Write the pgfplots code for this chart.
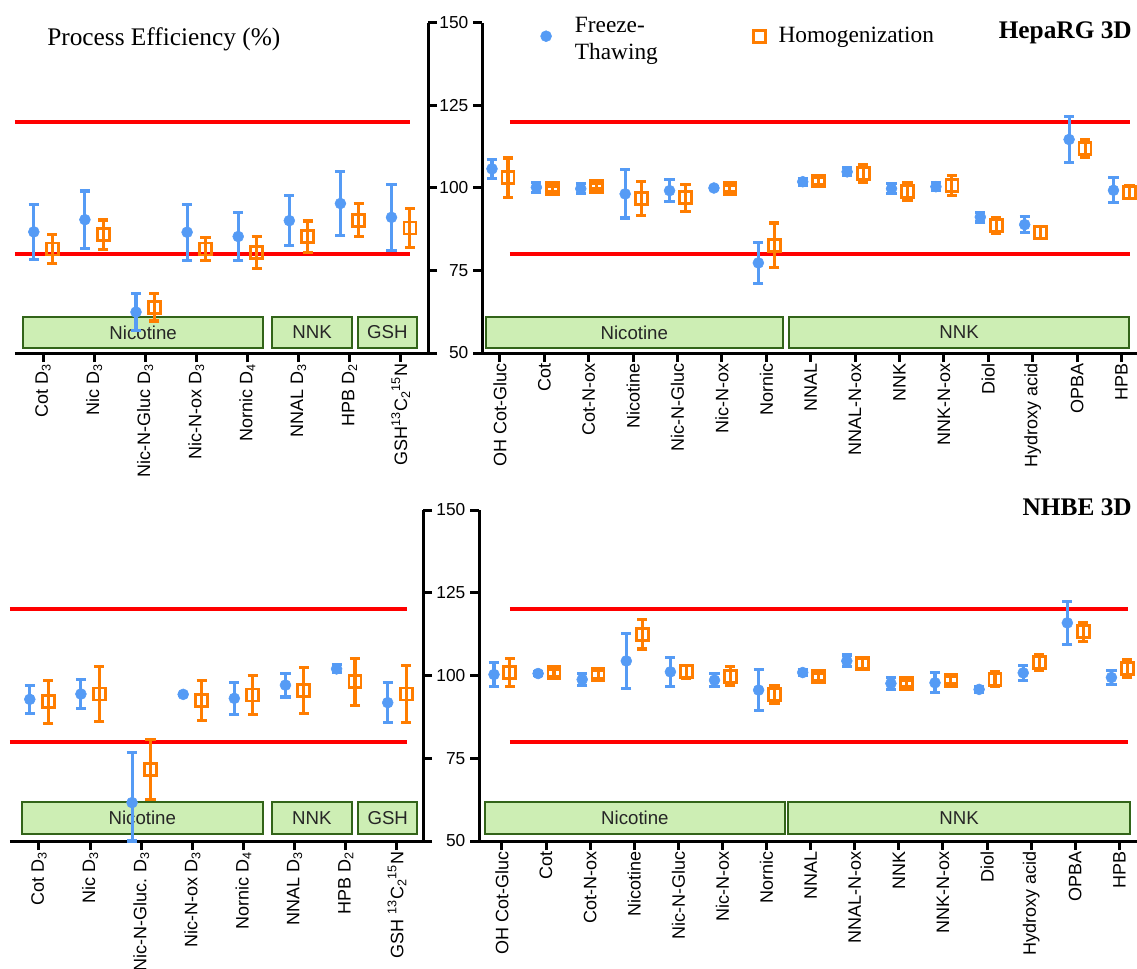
\documentclass[border=0pt]{standalone}
\usepackage{fontspec}
\setmainfont{Liberation Sans}
\newfontfamily\serif{Liberation Serif}
\usepackage{pgfplots}
\pgfplotsset{compat=1.18}
\definecolor{ftblue}{RGB}{85,155,245}
\definecolor{hgorange}{RGB}{255,125,0}
\definecolor{boxfill}{RGB}{205,238,180}
\definecolor{boxedge}{RGB}{50,100,25}
\definecolor{plred}{RGB}{255,0,0}
\def\u{0.75pt}
\tikzset{
  grp/.style={fill=boxfill, draw=boxedge, line width=1.5pt},
  grptext/.style={font=\fontsize{14}{14}\selectfont, text=black!85},
}
\pgfplotsset{
  panel/.style={scale only axis, anchor=south west, ymin=50, ymax=150, ytick={50,75,100,125,150},
    axis line style={line width=2.25pt, black},
    tick style={line width=2.25pt, black},
    major tick length=6.75pt, tick align=outside,
    xticklabel style={rotate=90, anchor=east, font=\fontsize{13.5}{14}\selectfont, inner sep=1pt},
    yticklabel style={font=\fontsize{13}{14}\selectfont},
    /pgf/number format/assume math mode=true,
    clip=false},
  redline/.style={plred, line width=3pt, no marks, forget plot},
  ft/.style={only marks, color=ftblue, mark=*, mark size=4.1pt,
    error bars/.cd, y dir=both, y explicit,
    error bar style={line width=2.3pt, ftblue},
    error mark options={rotate=90, line width=2.3pt, mark size=3.8pt, ftblue}},
  hg/.style={only marks, color=hgorange, mark=square, mark size=4.5pt, mark options={line width=2.1pt},
    error bars/.cd, y dir=both, y explicit,
    error bar style={line width=2.3pt, hgorange},
    error mark options={rotate=90, line width=2.3pt, mark size=3.8pt, hgorange}},
}
\begin{document}
\begin{tikzpicture}
\useasboundingbox (0,0) rectangle ({1137*\u},{-969*\u});
% ---------------- Top left
\begin{axis}[panel, at={(11.25pt,-264.75pt)}, width=309.75pt, height=247.5pt,
  xmin=-0.548, xmax=7.534, axis x line*=bottom, axis y line*=right, yticklabels={},
  xtick={0,...,7},
  xticklabels={Cot D\textsubscript{3}, Nic D\textsubscript{3}, Nic-N-Gluc D\textsubscript{3}, Nic-N-ox D\textsubscript{3}, Nornic D\textsubscript{4}, NNAL D\textsubscript{3}, HPB D\textsubscript{2}, GSH\textsuperscript{13}C\textsubscript{2}\textsuperscript{15}N}]
\draw[grp] (axis cs:-0.39,51.5) rectangle (axis cs:4.31,60.9);
\node[grptext] at (axis cs:1.96,56.2) {Nicotine};
\draw[grp] (axis cs:4.48,51.5) rectangle (axis cs:6.05,60.9);
\node[grptext] at (axis cs:5.265,56.2) {NNK};
\draw[grp] (axis cs:6.16,51.5) rectangle (axis cs:7.32,60.9);
\node[grptext] at (axis cs:6.74,56.2) {GSH};
\addplot[redline] coordinates {(-0.55,120) (7.18,120)};
\addplot[redline] coordinates {(-0.55,80) (7.18,80)};
\addplot[ft] coordinates {
(-0.18,86.7) +- (0,8.4)
(0.82,90.4) +- (0,8.7)
(1.82,62.4) +- (0,5.5)
(2.82,86.6) +- (0,8.5)
(3.82,85.3) +- (0,7.3)
(4.82,90.1) +- (0,7.6)
(5.82,95.3) +- (0,9.6)
(6.82,91.1) +- (0,10.1)
};
\addplot[hg] coordinates {
(0.18,81.5) +- (0,4.3)
(1.18,85.9) +- (0,4.4)
(2.18,63.9) +- (0,4.2)
(3.18,81.5) +- (0,3.6)
(4.18,80.5) +- (0,4.8)
(5.18,85.2) +- (0,4.8)
(6.18,90.2) +- (0,5.0)
(7.18,87.9) +- (0,5.8)
};
\end{axis}
% ---------------- Top right
\begin{axis}[panel, at={(361.5pt,-264.75pt)}, width=491.25pt, height=247.5pt,
  xmin=-0.405, xmax=14.35, axis x line*=bottom, axis y line*=left,
  xtick={0,...,14},
  xticklabels={OH Cot-Gluc, Cot, Cot-N-ox, Nicotine, Nic-N-Gluc, Nic-N-ox, Nornic, NNAL, NNAL-N-ox, NNK, NNK-N-ox, Diol, Hydroxy acid, OPBA, HPB},
  legend style={at={(0.083,0.960)}, anchor=west, draw=none, fill=none,
    font=\serif\fontsize{17.5}{20}\selectfont, legend columns=2,
    /tikz/every odd column/.append style={column sep=7.5pt},
    /tikz/every even column/.append style={column sep=70pt}}]
\draw[grp] (axis cs:-0.32,51.5) rectangle (axis cs:6.37,60.9);
\node[grptext] at (axis cs:3.025,56.2) {Nicotine};
\draw[grp] (axis cs:6.51,51.5) rectangle (axis cs:14.17,60.9);
\node[grptext] at (axis cs:10.34,56.2) {NNK};
\addplot[redline] coordinates {(0.22,120) (14.19,120)};
\addplot[redline] coordinates {(0.22,80) (14.19,80)};
\addplot[ft] coordinates {
(-0.18,105.8) +- (0,2.9)
(0.82,100.2) +- (0,1.5)
(1.82,99.8) +- (0,1.5)
(2.82,98.2) +- (0,7.3)
(3.82,99.2) +- (0,3.4)
(4.82,100.0) +- (0,0.5)
(5.82,77.3) +- (0,6.1)
(6.82,101.9) +- (0,1.0)
(7.82,104.9) +- (0,1.2)
(8.82,99.8) +- (0,1.5)
(9.82,100.4) +- (0,1.2)
(10.82,91.2) +- (0,1.5)
(11.82,88.9) +- (0,2.5)
(12.82,114.7) +- (0,7.0)
(13.82,99.3) +- (0,3.8)
};
\addlegendentry{\hspace{8pt}\raisebox{7pt}{\begin{tabular}{@{}l@{}}Freeze-\\Thawing\end{tabular}}}
\addplot[hg] coordinates {
(0.18,103.1) +- (0,6.0)
(1.18,99.8) +- (0,0.8)
(2.18,100.5) +- (0,0.8)
(3.18,96.8) +- (0,5.2)
(4.18,97.0) +- (0,4.2)
(5.18,99.8) +- (0,1.0)
(6.18,82.6) +- (0,6.8)
(7.18,102.1) +- (0,1.0)
(8.18,104.4) +- (0,2.8)
(9.18,99.0) +- (0,2.8)
(10.18,100.8) +- (0,3.0)
(11.18,88.7) +- (0,2.5)
(12.18,86.4) +- (0,1.8)
(13.18,112.0) +- (0,2.8)
(14.18,98.7) +- (0,2.0)
};
\addlegendentry{Homogenization}
\end{axis}
% ---------------- Bottom left
\begin{axis}[panel, at={(7.5pt,-630.75pt)}, width=309.75pt, height=248.25pt,
  xmin=-0.567, xmax=7.51, axis x line*=bottom, axis y line*=right, yticklabels={},
  xtick={0,...,7},
  xticklabels={Cot D\textsubscript{3}, Nic D\textsubscript{3}, Nic-N-Gluc. D\textsubscript{3}, Nic-N-ox D\textsubscript{3}, Nornic D\textsubscript{4}, NNAL D\textsubscript{3}, HPB D\textsubscript{2}, GSH \textsuperscript{13}C\textsubscript{2}\textsuperscript{15}N}]
\draw[grp] (axis cs:-0.34,52.1) rectangle (axis cs:4.38,61.7);
\node[grptext] at (axis cs:2.02,56.9) {Nicotine};
\draw[grp] (axis cs:4.55,52.1) rectangle (axis cs:6.12,61.7);
\node[grptext] at (axis cs:5.335,56.9) {NNK};
\draw[grp] (axis cs:6.24,52.1) rectangle (axis cs:7.40,61.7);
\node[grptext] at (axis cs:6.82,56.9) {GSH};
\addplot[redline] coordinates {(-0.57,120) (7.20,120)};
\addplot[redline] coordinates {(-0.57,80) (7.20,80)};
\addplot[ft] coordinates {
(-0.18,92.8) +- (0,4.2)
(0.82,94.4) +- (0,4.3)
(1.82,61.6) += (0,15.2) -= (0,11.6)
(2.82,94.3) +- (0,0.3)
(3.82,93.1) +- (0,4.8)
(4.82,97.1) +- (0,3.6)
(5.82,102.0) +- (0,1.2)
(6.82,91.8) +- (0,6.0)
};
\addplot[hg] coordinates {
(0.18,92.1) +- (0,6.5)
(1.18,94.4) +- (0,8.2)
(2.18,71.7) +- (0,9.1)
(3.18,92.4) +- (0,6.0)
(4.18,94.1) +- (0,6.0)
(5.18,95.4) +- (0,7.0)
(6.18,98.1) +- (0,7.1)
(7.18,94.4) +- (0,8.5)
};
\end{axis}
% ---------------- Bottom right
\begin{axis}[panel, at={(359.25pt,-630.75pt)}, width=493.5pt, height=248.25pt,
  xmin=-0.52, xmax=14.4, axis x line*=bottom, axis y line*=left,
  xtick={0,...,14},
  xticklabels={OH Cot-Gluc, Cot, Cot-N-ox, Nicotine, Nic-N-Gluc, Nic-N-ox, Nornic, NNAL, NNAL-N-ox, NNK, NNK-N-ox, Diol, Hydroxy acid, OPBA, HPB}]
\draw[grp] (axis cs:-0.39,52.1) rectangle (axis cs:6.42,61.7);
\node[grptext] at (axis cs:3.015,56.9) {Nicotine};
\draw[grp] (axis cs:6.49,52.1) rectangle (axis cs:14.24,61.7);
\node[grptext] at (axis cs:10.365,56.9) {NNK};
\addplot[redline] coordinates {(0.18,120) (14.2,120)};
\addplot[redline] coordinates {(0.18,80) (14.2,80)};
\addplot[ft] coordinates {
(-0.18,100.3) +- (0,3.7)
(0.82,100.6) +- (0,0.5)
(1.82,98.8) +- (0,1.9)
(2.82,104.4) +- (0,8.2)
(3.82,101.1) +- (0,4.4)
(4.82,98.6) +- (0,2.0)
(5.82,95.6) +- (0,6.2)
(6.82,100.9) +- (0,0.8)
(7.82,104.4) +- (0,1.8)
(8.82,97.6) +- (0,1.8)
(9.82,97.8) +- (0,3.0)
(10.82,95.8) +- (0,1.0)
(11.82,100.8) +- (0,2.3)
(12.82,115.9) +- (0,6.4)
(13.82,99.4) +- (0,2.0)
};
\addplot[hg] coordinates {
(0.18,100.8) +- (0,4.2)
(1.18,100.8) +- (0,1.0)
(2.18,100.4) +- (0,1.2)
(3.18,112.4) +- (0,4.4)
(4.18,101.1) +- (0,2.0)
(5.18,99.8) +- (0,2.8)
(6.18,94.3) +- (0,2.8)
(7.18,99.6) +- (0,1.0)
(8.18,103.6) +- (0,1.6)
(9.18,97.6) +- (0,1.0)
(10.18,98.6) +- (0,1.0)
(11.18,98.9) +- (0,2.3)
(12.18,103.9) +- (0,2.3)
(13.18,113.2) +- (0,2.8)
(14.18,102.1) +- (0,2.6)
};
\end{axis}
% ---------------- Titles
\node[anchor=base west, font=\serif\fontsize{19}{22}\selectfont, inner sep=0pt] at ({47*\u},{-46*\u}) {Process Efficiency (\%)};
\node[anchor=base east, font=\serif\bfseries\fontsize{19}{22}\selectfont, inner sep=0pt] at ({1132*\u},{-39*\u}) {HepaRG 3D};
\node[anchor=base east, font=\serif\bfseries\fontsize{19}{22}\selectfont, inner sep=0pt] at ({1132*\u},{-515*\u}) {NHBE 3D};
\end{tikzpicture}
\end{document}
